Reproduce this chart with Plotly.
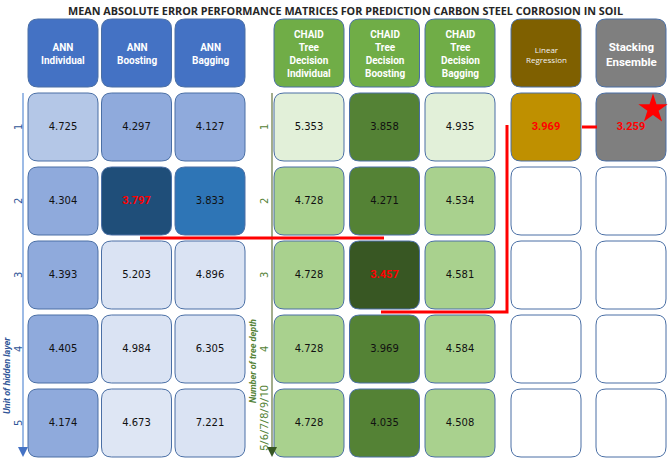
import plotly.graph_objects as go

# ---------------- data ----------------
title = "MEAN ABSOLUTE ERROR PERFORMANCE MATRICES FOR PREDICTION CARBON STEEL CORROSION IN SOIL"
row_labels = ["1", "2", "3", "4", "5"]
ann_headers = ["ANN<br>Individual", "ANN<br>Boosting", "ANN<br>Bagging"]
chaid_headers = ["CHAID<br>Tree<br>Decision<br>Individual", "CHAID<br>Tree<br>Decision<br>Boosting",
                 "CHAID<br>Tree<br>Decision<br>Bagging"]
lr_header = "Linear<br>Regression"
stack_header = "Stacking<br>Ensemble"

ann_individual = [4.725, 4.304, 4.393, 4.405, 4.174]
ann_boosting = [4.297, 3.797, 5.203, 4.984, 4.673]
ann_bagging = [4.127, 3.833, 4.896, 6.305, 7.221]
chaid_individual = [5.353, 4.728, 4.728, 4.728, 4.728]
chaid_boosting = [3.858, 4.271, 3.457, 3.969, 4.035]
chaid_bagging = [4.935, 4.534, 4.581, 4.584, 4.508]
linear_regression = [3.969]
stacking_ensemble = [3.259]

best_ann = 3.797
best_chaid = 3.457

# ---------------- styles / layout ----------------
W, H = 669, 460
ROW_TOP0, ROW_PITCH, CELL_H = 93, 74, 68
HDR_TOP, HDR_H = 19, 68
CELL_W = 70
RADIUS = 10

ann_fill = [["#b4c7e7", "#8faadc", "#8faadc", "#8faadc", "#8faadc"],
            ["#8faadc", "#1f4e79", "#dae3f3", "#dae3f3", "#dee6f4"],
            ["#8faadc", "#2e75b6", "#dae3f3", "#dae3f3", "#dae3f3"]]
chaid_fill = [["#e2f0d9", "#a9d18e", "#a9d18e", "#a9d18e", "#a9d18e"],
              ["#548235", "#548235", "#385723", "#548235", "#548235"],
              ["#e2f0d9", "#a9d18e", "#a9d18e", "#a9d18e", "#a9d18e"]]
BORDER = "#4a6fa5"

groups = [
    dict(x0=28, pitch=73.5, headers=ann_headers, hdr_fill="#4472c4",
         cols=[ann_individual, ann_boosting, ann_bagging], fills=ann_fill, best=best_ann),
    dict(x0=274, pitch=75.5, headers=chaid_headers, hdr_fill="#70ad47",
         cols=[chaid_individual, chaid_boosting, chaid_bagging], fills=chaid_fill, best=best_chaid),
    dict(x0=511, pitch=0, headers=[lr_header], hdr_fill="#7f6000",
         cols=[linear_regression], fills=[["#bf9000"]], best=None),
    dict(x0=596, pitch=0, headers=[stack_header], hdr_fill="#7f7f7f",
         cols=[stacking_ensemble], fills=[["#7f7f7f"]], best=None),
]


def rrect(x0, y0, x1, y1, r):
    return (f"M {x0+r},{y0} L {x1-r},{y0} Q {x1},{y0} {x1},{y0+r} "
            f"L {x1},{y1-r} Q {x1},{y1} {x1-r},{y1} L {x0+r},{y1} "
            f"Q {x0},{y1} {x0},{y1-r} L {x0},{y0+r} Q {x0},{y0} {x0+r},{y0} Z")


shapes = []
annotations = []
txt_x, txt_y, txt_s = [], [], []
best_x, best_y, best_s = [], [], []

for gi, g in enumerate(groups):
    for ci, hdr in enumerate(g["headers"]):
        x0 = g["x0"] + ci * g["pitch"]
        x1 = x0 + CELL_W
        shapes.append(dict(type="path", path=rrect(x0, HDR_TOP, x1, HDR_TOP + HDR_H, RADIUS),
                           fillcolor=g["hdr_fill"], line=dict(color=BORDER, width=1), layer="below"))
        if gi == 2:
            fnt = dict(family="Open Sans", size=8, color="#f2f2f2")
            txt = hdr
        elif gi == 3:
            fnt = dict(family="Roboto", size=11.5, color="white")
            txt = "<b>" + hdr + "</b>"
        else:
            fnt = dict(family="Roboto", size=10, color="white")
            txt = "<b>" + hdr + "</b>"
        annotations.append(dict(x=(x0 + x1) / 2, y=HDR_TOP + HDR_H / 2 + 1, text=txt, showarrow=False,
                                font=fnt, xref="x", yref="y", align="center"))
        col_vals = g["cols"][ci]
        for ri in range(len(row_labels)):
            y0 = ROW_TOP0 + ri * ROW_PITCH
            y1 = y0 + CELL_H
            if ri < len(col_vals):
                fill = g["fills"][ci][ri]
                v = col_vals[ri]
                cx, cy = (x0 + x1) / 2, (y0 + y1) / 2
                if g["best"] is None or v == g["best"] and ci == 1:
                    best_x.append(cx); best_y.append(cy); best_s.append(f"<b>{v:.3f}</b>")
                else:
                    txt_x.append(cx); txt_y.append(cy); txt_s.append(f"{v:.3f}")
            else:
                fill = "white"
            shapes.append(dict(type="path", path=rrect(x0, y0, x1, y1, RADIUS),
                               fillcolor=fill, line=dict(color=BORDER, width=1), layer="below"))

fig = go.Figure()
fig.add_trace(go.Scatter(x=txt_x, y=txt_y, text=txt_s, mode="text",
                         textfont=dict(family="DejaVu Sans", size=10, color="#111111"),
                         hoverinfo="skip", showlegend=False))
fig.add_trace(go.Scatter(x=best_x, y=best_y, text=best_s, mode="text",
                         textfont=dict(family="Roboto", size=11, color="#ff0000"),
                         hoverinfo="skip", showlegend=False))
# star on stacking ensemble
st_x0 = groups[3]["x0"]
fig.add_trace(go.Scatter(x=[st_x0 + 57], y=[ROW_TOP0 + 16], mode="markers",
                         marker=dict(symbol="star", size=22, color="#ff0000", line=dict(width=0)),
                         hoverinfo="skip", showlegend=False))

# axes arrows
row_mid = [ROW_TOP0 + i * ROW_PITCH + CELL_H / 2 for i in range(len(row_labels))]
bottom = ROW_TOP0 + (len(row_labels) - 1) * ROW_PITCH + CELL_H
ann_axis_x = groups[0]["x0"] - 5
chaid_axis_x = groups[1]["x0"] - 2
shapes.append(dict(type="line", x0=ann_axis_x, x1=ann_axis_x, y0=ROW_TOP0, y1=bottom - 4,
                   line=dict(color="#9dbbe6", width=2)))
shapes.append(dict(type="line", x0=chaid_axis_x, x1=chaid_axis_x, y0=ROW_TOP0, y1=bottom - 4,
                   line=dict(color="#a3ad8c", width=2)))
annotations.append(dict(x=ann_axis_x, y=bottom, ax=ann_axis_x, ay=bottom - 8, xref="x", yref="y",
                        axref="x", ayref="y", text="", showarrow=True, arrowhead=2, arrowsize=1,
                        arrowwidth=2, arrowcolor="#4472c4"))
annotations.append(dict(x=chaid_axis_x, y=bottom, ax=chaid_axis_x, ay=bottom - 8, xref="x", yref="y",
                        axref="x", ayref="y", text="", showarrow=True, arrowhead=2, arrowsize=1,
                        arrowwidth=2, arrowcolor="#375623"))
for i, lab in enumerate(row_labels):
    annotations.append(dict(x=ann_axis_x - 5, y=row_mid[i], text=lab, showarrow=False, textangle=-90,
                            font=dict(family="DejaVu Sans", size=10, color="#2f5597"), xref="x", yref="y"))
    if i < 4:
        annotations.append(dict(x=chaid_axis_x - 8, y=row_mid[i], text=lab, showarrow=False, textangle=-90,
                                font=dict(family="DejaVu Sans", size=10, color="#548235"), xref="x", yref="y"))
annotations.append(dict(x=chaid_axis_x - 8, y=row_mid[4] - 5, text="5/6/7/8/9/10", showarrow=False,
                        textangle=-90, font=dict(family="Roboto", size=11, color="#548235"),
                        xref="x", yref="y"))
annotations.append(dict(x=ann_axis_x - 16, y=376, text="<b><i>Unit of hidden layer</i></b>", showarrow=False,
                        textangle=-90, font=dict(family="Roboto", size=9, color="#2f5597"),
                        xref="x", yref="y"))
annotations.append(dict(x=chaid_axis_x - 19, y=361, text="<b><i>Number of tree depth</i></b>",
                        showarrow=False, textangle=-90,
                        font=dict(family="Roboto", size=9, color="#548235"), xref="x", yref="y"))

# red highlight lines
RED = "#ff0000"
shapes.append(dict(type="line", x0=140, x1=384, y0=238, y1=238, line=dict(color=RED, width=3)))
shapes.append(dict(type="path", path="M 381,312 L 507,312 L 507,125", line=dict(color=RED, width=3)))
shapes.append(dict(type="line", x0=582, x1=597, y0=127, y1=127, line=dict(color=RED, width=3)))

annotations.append(dict(x=345, y=10, text="<b>" + title + "</b>", showarrow=False,
                        font=dict(family="Open Sans", size=10.8, color="#262626"), xref="x", yref="y"))

fig.update_layout(
    width=W, height=H, margin=dict(l=0, r=0, t=0, b=0),
    paper_bgcolor="white", plot_bgcolor="white",
    xaxis=dict(range=[0, W], visible=False, fixedrange=True),
    yaxis=dict(range=[H, 0], visible=False, fixedrange=True),
    shapes=shapes, annotations=annotations, showlegend=False,
)
fig.write_html("out.html", config={"displayModeBar": False},
               post_script="document.body.style.margin='0';document.body.style.overflow='hidden';")
